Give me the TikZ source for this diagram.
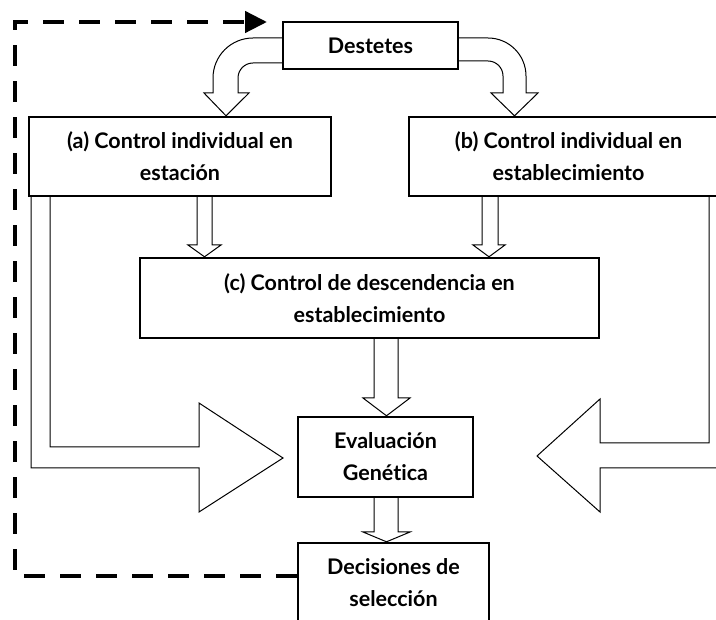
\documentclass[tikz,border=0pt]{standalone}
\usepackage{fontspec}
\setmainfont{Lato}[Ligatures=NoCommon]
\usetikzlibrary{arrows.meta}

\tikzset{
  caja/.style={draw, line width=2.4pt, fill=white, align=center, inner sep=0pt,
    font=\fontsize{21.5}{32}\selectfont\bfseries},
  flecha/.style={draw, line width=1pt, fill=white, line join=miter},
  retro/.style={line width=4.5pt, dash pattern=on 21pt off 15pt,
    -{Triangle[length=22pt,width=21pt]}}
}

\begin{document}
\begin{tikzpicture}[x=1pt,y=-1pt]
  \clip (0,0) rectangle (716,620);
  % cajas
  \node[caja, minimum width=175pt, minimum height=47pt] (dest) at (370.5,45.5) {Destetes};
  \node[caja, minimum width=302pt, minimum height=79pt] (ctla) at (180,156.5) {(a) Control individual en\\estación};
  \node[caja, minimum width=319pt, minimum height=79pt] (ctlb) at (568.5,156.5) {(b) Control individual en\\establecimiento};
  \node[caja, minimum width=459pt, minimum height=80pt] (ctlc) at (369.5,298) {(c) Control de descendencia en\\establecimiento};
  \node[caja, minimum width=175pt, minimum height=80pt] (eval) at (385.5,457) {Evaluación\\Genética};
  \node[caja, minimum width=191pt, minimum height=80pt] (dec) at (393.5,583) {Decisiones de\\selección};
  % flechas curvas desde destetes
  \draw[flecha] (dest.west |- 0,38) -- (253,38) arc[start angle=-90, end angle=-180, radius=40]
    -- (213,93) -- (204,93) -- (226,0 |- ctla.north) -- (249,93) -- (238,93) -- (238,78)
    arc[start angle=180, end angle=270, radius=15] -- (dest.west |- 0,63);
  \draw[flecha] (dest.east |- 0,38) -- (488,38) arc[start angle=-90, end angle=0, radius=38]
    -- (526,93) -- (538,93) -- (514.5,0 |- ctlb.north) -- (491,93) -- (503,93) -- (503,76)
    arc[start angle=0, end angle=-90, radius=15] -- (dest.east |- 0,61);
  % flechas rectas
  \draw[flecha] (197,0 |- ctla.south) -- (197,245) -- (188,245) -- (204.5,0 |- ctlc.north)
    -- (221,245) -- (212,245) -- (212,0 |- ctla.south);
  \draw[flecha] (482,0 |- ctlb.south) -- (482,245) -- (473,245) -- (489,0 |- ctlc.north)
    -- (505,245) -- (498,245) -- (498,0 |- ctlb.south);
  \draw[flecha] (374,0 |- ctlc.south) -- (374,398) -- (363,398) -- (386.5,0 |- eval.north)
    -- (410,398) -- (398,398) -- (398,0 |- ctlc.south);
  \draw[flecha] (374,0 |- eval.south) -- (374,532) -- (363,532) -- (386.5,0 |- dec.north)
    -- (410,532) -- (398,532) -- (398,0 |- eval.south);
  % flechas grandes hacia la evaluacion
  \draw[flecha] (31,0 |- ctla.south) -- (31,468) -- (199,468) -- (199,512) -- (283,458)
    -- (199,403) -- (199,447) -- (50,447) -- (50,0 |- ctla.south);
  \draw[flecha] (709,0 |- ctlb.south) -- (709,443) -- (600,443) -- (600,399) -- (537,456)
    -- (600,512) -- (600,468) -- (728,468) -- (728,0 |- ctlb.south);
  % retroalimentacion
  \coordinate (vuelta) at (267,22);
  \draw[retro] ([yshift=7pt]dec.west) -| (15,22) -- (vuelta);
\end{tikzpicture}
\end{document}
